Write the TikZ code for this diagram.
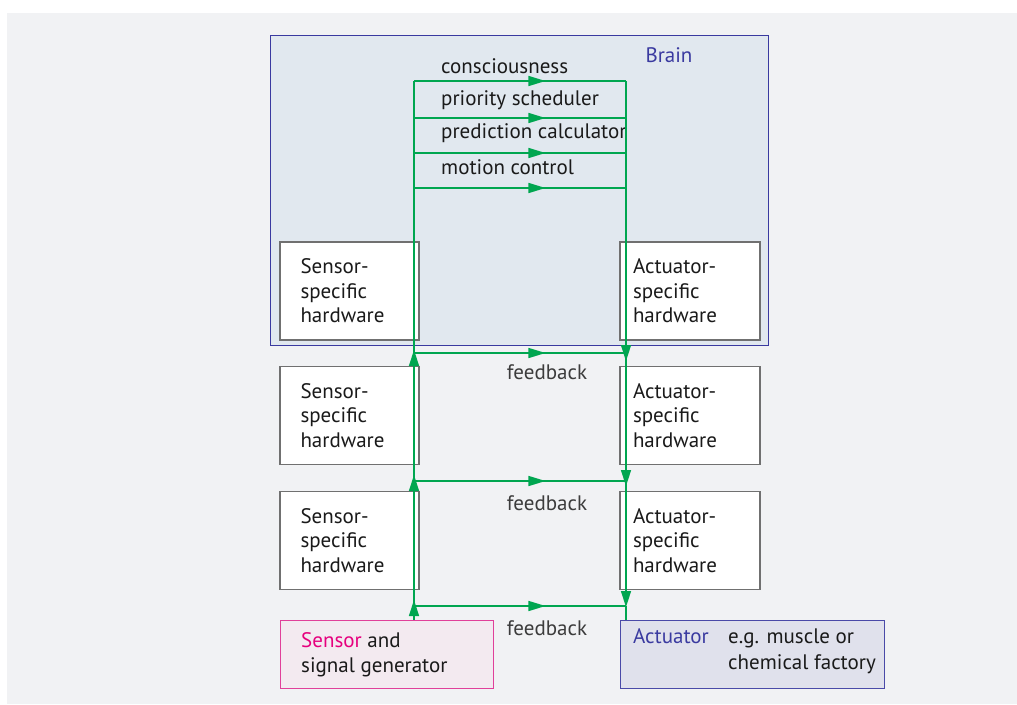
\documentclass[tikz,border=0pt]{standalone}
\usepackage{fontspec}
\setmainfont{PT Sans}
\usetikzlibrary{arrows.meta,decorations.markings}
\definecolor{bgpanel}{HTML}{F1F2F4}
\definecolor{brainfill}{HTML}{E1E8EF}
\definecolor{brainblue}{HTML}{3A3AA0}
\definecolor{gline}{HTML}{00A650}
\definecolor{boxgray}{HTML}{707070}
\definecolor{sensfill}{HTML}{F3EAF0}
\definecolor{sensborder}{HTML}{E0409A}
\definecolor{magentatext}{HTML}{E6007E}
\definecolor{actfill}{HTML}{E0E1EC}
\definecolor{actborder}{HTML}{4A4AA8}
\definecolor{txt}{HTML}{1A1A1A}
\tikzset{
  x=1pt, y=-1pt,
  every node/.style={font=\fontsize{21}{24.5}\selectfont, text=txt},
  hw/.style={draw=boxgray, line width=1.1pt, fill=white, minimum height=98pt,
    align=left, anchor=center},
  hwl/.style={hw, minimum width=139pt, text width=98pt, inner xsep=20.5pt},
  hwr/.style={hw, minimum width=140pt, text width=114pt, inner xsep=13pt},
  gl/.style={draw=gline, line width=1.5pt},
  tipa/.style={-{Triangle[length=16pt,width=10pt]}},
  midarrow/.style={postaction={decorate}, decoration={markings,
    mark=at position 0.62 with {\arrow{Triangle[length=17pt,width=10pt]}}}},
  lbl/.style={anchor=west, inner sep=0pt},
}
\begin{document}
\begin{tikzpicture}
\useasboundingbox (0,0) rectangle (1017,704);
\fill[white] (0,0) rectangle (1017,704);
\fill[bgpanel] (7,13) rectangle (1017,704);

% Brain
\node[draw=brainblue, line width=1pt, fill=brainfill, minimum width=498pt,
  minimum height=310pt, inner sep=0pt] (brain) at (519,190) {};
\node[text=brainblue] (brainlbl) at (669,55) {Brain};

% hardware boxes
\node[hwl] (s1) at (349.5,291) {Sensor-\\specific\\hardware};
\node[hwl] (s2) at (349.5,415.5) {Sensor-\\specific\\hardware};
\node[hwl] (s3) at (349.5,540.5) {Sensor-\\specific\\hardware};
\node[hwr] (a1) at (690,291) {Actuator-\\specific\\hardware};
\node[hwr] (a2) at (690,415.5) {Actuator-\\specific\\hardware};
\node[hwr] (a3) at (690,540.5) {Actuator-\\specific\\hardware};

% bottom boxes
\node[draw=sensborder, line width=1pt, fill=sensfill, minimum width=213pt,
  minimum height=68pt, inner sep=0pt] (sg) at (386.5,654) {};
\node[lbl, align=left] (sglbl) at (301,654.5)
  {\textcolor{magentatext}{Sensor} and\\signal generator};
\node[draw=actborder, line width=1pt, fill=actfill, minimum width=264pt,
  minimum height=68pt, inner sep=0pt] (act) at (752,654) {};
\node[lbl, text=brainblue] (actlbl) at (633,636) {Actuator};
\node[lbl, align=left, font=\fontsize{21}{26}\selectfont] (actdesc) at (728,651)
  {e.g. muscle or\\chemical factory};

% coordinates
\coordinate (LT) at (414,81);  \coordinate (RT) at (626,81);
\coordinate (L1) at (414,118); \coordinate (R1) at (626,118);
\coordinate (L2) at (414,153); \coordinate (R2) at (626,153);
\coordinate (L3) at (414,188); \coordinate (R3) at (626,188);
\coordinate (FL1) at (414,353);  \coordinate (FR1) at (626,353);
\coordinate (FL2) at (414,481);  \coordinate (FR2) at (626,481);
\coordinate (FL3) at (414,606);  \coordinate (FR3) at (626,606);

% brain level lines
\draw[gl, midarrow] (LT) -- (RT);
\draw[gl, midarrow] (L1) -- (R1);
\draw[gl, midarrow] (L2) -- (R2);
\draw[gl, midarrow] (L3) -- (R3);

\node[lbl] (t1) at (441,66) {consciousness};
\node[lbl] (t2) at (441,100) {priority scheduler};
\node[lbl] (t3) at (441,133) {prediction calculator};
\node[lbl] (t4) at (441,167) {motion control};

% left vertical (upward)
\draw[gl] (LT) -- (FL1);
\draw[gl, tipa] (FL2) -- ([yshift=3pt]FL1);
\draw[gl, tipa] (FL3) -- ([yshift=6pt]FL2);
\draw[gl, tipa] (sg.north -| FL3) -- ([yshift=6pt]FL3);

% right vertical (downward)
\draw[gl, tipa] (RT) -- ([yshift=-8pt]FR1);
\draw[gl, tipa] (FR1) -- ([yshift=-5pt]FR2);
\draw[gl, tipa] (FR2) -- ([yshift=-1pt]FR3);
\draw[gl] (FR3) -- (act.north -| FR3);

% feedback lines
\draw[gl, midarrow] (FL1) -- (FR1);
\draw[gl, midarrow] (FL2) -- (FR2);
\draw[gl, midarrow] (FL3) -- (FR3);
\node[text=txt!85] (fb1) at (547,372) {feedback};
\node[text=txt!85] (fb2) at (547,503) {feedback};
\node[text=txt!85] (fb3) at (547,628) {feedback};
\end{tikzpicture}
\end{document}
